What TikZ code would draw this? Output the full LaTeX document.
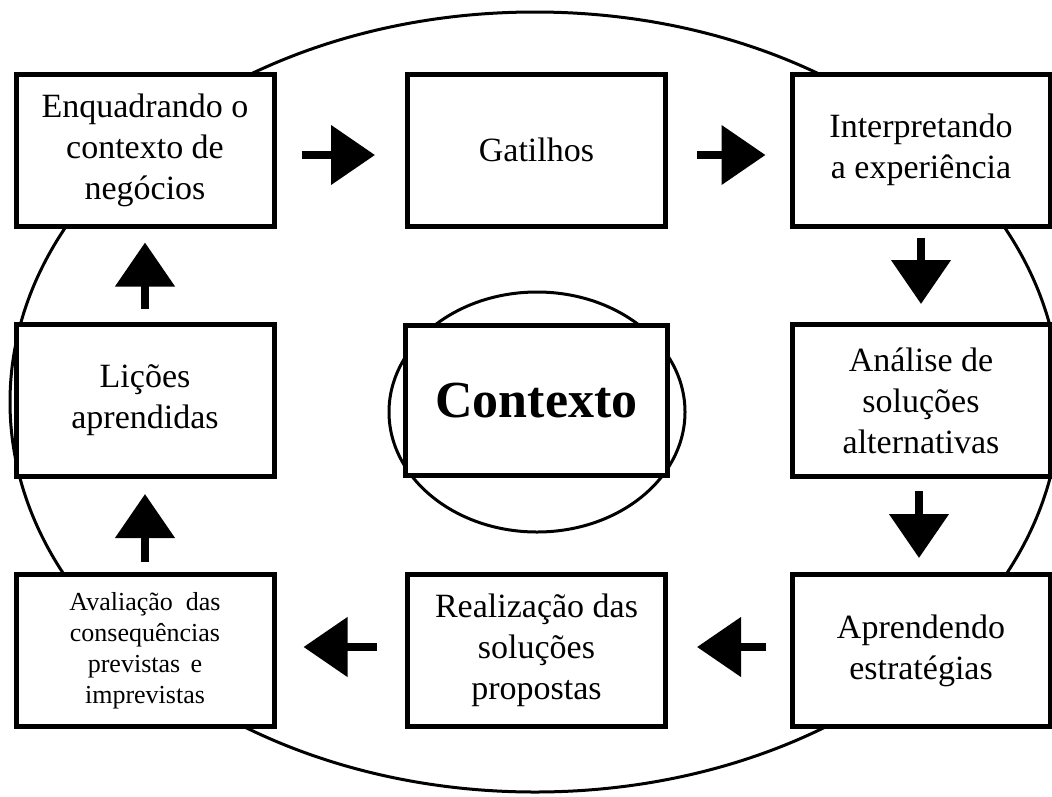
\documentclass[tikz,border=0pt]{standalone}
\usepackage{fontspec}
\setmainfont{Liberation Serif}
\usetikzlibrary{arrows.meta,calc}
\begin{document}
\begin{tikzpicture}[x=1pt,y=-1pt,
  box/.style={draw,line width=5pt,fill=white,rectangle,minimum width=258pt,minimum height=152pt,inner sep=0pt,align=center,font=\fontsize{34}{41}\selectfont},
  smallbox/.style={box,font=\fontsize{26}{31}\selectfont},
  ctxbox/.style={box,minimum width=262pt,minimum height=150pt,font=\fontsize{52}{60}\selectfont\bfseries},
  arr/.style={line width=8pt,-{Triangle[width=58pt,length=44pt]}},
  ring/.style={line width=3pt}]
\useasboundingbox (0,0) rectangle (1052,796);
\draw[ring] (535,402) ellipse [x radius=525pt, y radius=390pt];
\draw[ring] (537,412) ellipse [x radius=148pt, y radius=120pt];
\node[box] (b1) at (145,150) {Enquadrando o\\contexto de\\negócios};
\node[box] (b2) at (536.5,150) {Gatilhos};
\node[box] (b3) at (921,150) {Interpretando\\a experiência};
\node[box] (b4) at (921,400.5) {Análise de\\soluções\\alternativas};
\node[box] (b5) at (921,650.5) {Aprendendo\\estratégias};
\node[box] (b6) at (536.5,650.5) {Realização das\\soluções\\propostas};
\node[smallbox] (b7) at (145,650.5) {Avaliação\hspace{0.5em}das\\consequências\\previstas\hspace{0.4em}e\\imprevistas};
\node[box] (b8) at (145,400.5) {Lições\\aprendidas};
\node[ctxbox] (ctx) at (536.5,400.5) {Contexto};
% connectors
\draw[arr] ($(b1.east)+(25,5)$) -- ($(b2.west)+(-30,5)$);
\draw[arr] ($(b2.east)+(29,5)$) -- ($(b3.west)+(-24,5)$);
\draw[arr] ($(b3.south)+(0,9)$) -- ($(b4.north)+(0,-18)$);
\draw[arr] ($(b4.south)+(-2,12)$) -- ($(b5.north)+(-2,-14)$);
\draw[arr] ($(b5.west)+(-24,-3.5)$) -- ($(b6.east)+(29,-3.5)$);
\draw[arr] ($(b6.west)+(-28,-3.5)$) -- ($(b7.east)+(27,-3.5)$);
\draw[arr] ($(b7.north)+(0,-10)$) -- ($(b8.south)+(0,15)$);
\draw[arr] ($(b8.north)+(0,-13)$) -- ($(b1.south)+(0,14)$);
\end{tikzpicture}
\end{document}
